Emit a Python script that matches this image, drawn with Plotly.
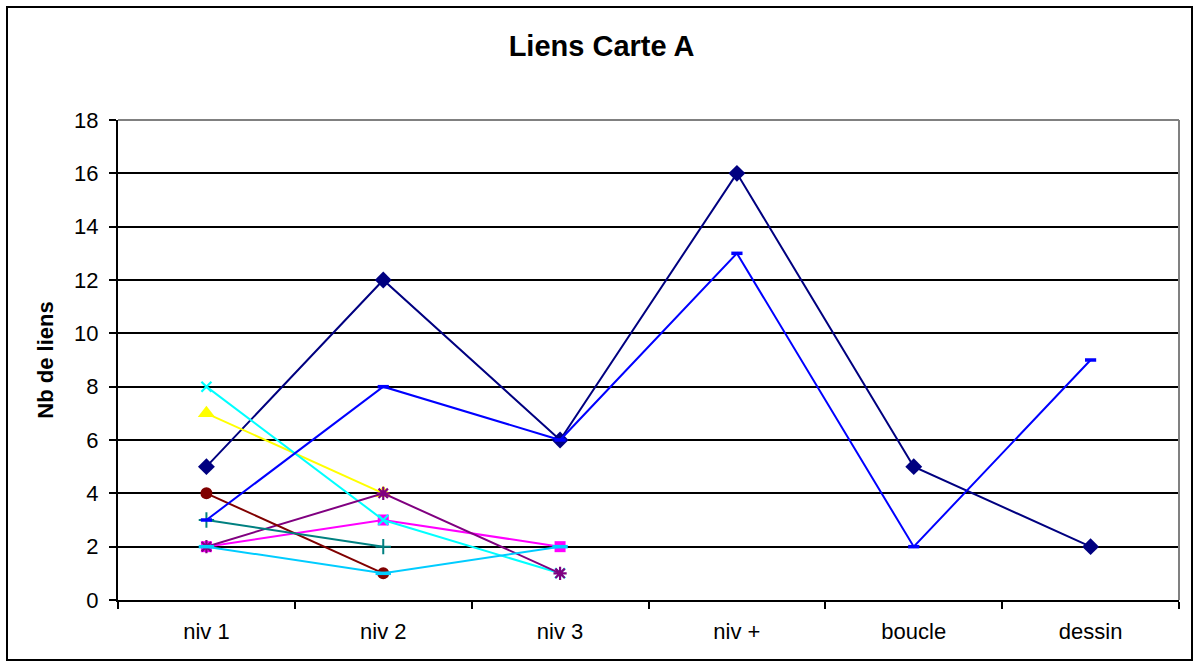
import plotly.graph_objects as go

# Categories on the x axis
categories = ["niv 1", "niv 2", "niv 3", "niv +", "boucle", "dessin"]

# One series per line (None = no value for that category)
serie_1 = [5, 12, 6, 16, 5, 2]
serie_2 = [2, 3, 2, None, None, None]
serie_3 = [7, 4, None, None, None, None]
serie_4 = [8, 3, 1, None, None, None]
serie_5 = [2, 4, 1, None, None, None]
serie_6 = [4, 1, None, None, None, None]
serie_7 = [3, 2, None, None, None, None]
serie_8 = [3, 8, 6, 13, 2, 9]
serie_9 = [2, 1, 2, None, None, None]

y_ticks = [0, 2, 4, 6, 8, 10, 12, 14, 16, 18]

series = [
    (serie_1, "#000080", "diamond", 13, 0),
    (serie_2, "#FF00FF", "square", 11, 0),
    (serie_3, "#FFFF00", "triangle-up", 15, 0),
    (serie_4, "#00FFFF", "x-thin", 10, 2.2),
    (serie_5, "#800080", "asterisk", 11, 2.2),
    (serie_6, "#800000", "circle", 12, 0),
    (serie_7, "#008080", "cross-thin", 11, 2),
    (serie_8, "#0000FF", "line-ew", 8, 3.5),
    (serie_9, "#00CCFF", "line-ew", 11, 3.5),
]

fig = go.Figure()
for i, (vals, color, symbol, size, lw) in enumerate(series, start=1):
    marker = dict(symbol=symbol, size=size, color=color)
    if lw:
        marker["line"] = dict(color=color, width=lw)
    fig.add_trace(go.Scatter(
        x=categories, y=vals, mode="lines+markers",
        name=f"Série{i}",
        line=dict(color=color, width=2),
        marker=marker,
        connectgaps=False,
        showlegend=False,
    ))

# plot-area geometry in pixels (used for the outer frame)
L, R, T, B = 118, 17, 120, 66
W, H = 1196, 666
pw, ph = W - L - R, H - T - B

def px_x(x):
    return (x - L) / pw

def px_y(y):
    return (H - B - y) / ph

fig.update_layout(
    width=W, height=H,
    margin=dict(l=L, r=R, t=T, b=B),
    paper_bgcolor="white", plot_bgcolor="white",
    font=dict(family="Liberation Sans, Arial, sans-serif", color="black", size=22),
    title=dict(text="<b>Liens Carte A</b>", x=0.503, xanchor="center",
               y=1 - 46 / H, yanchor="middle", yref="container",
               font=dict(size=29, color="black")),
    xaxis=dict(
        type="category", categoryorder="array", categoryarray=categories,
        range=[-0.5, 5.5], tickson="boundaries",
        ticks="outside", ticklen=7, tickwidth=1.5, tickcolor="black",
        showline=True, linecolor="black", linewidth=2,
        showgrid=False, zeroline=False,
        tickfont=dict(size=22), ticklabelstandoff=11,
    ),
    yaxis=dict(
        range=[0, 18], tickvals=y_ticks,
        ticks="outside", ticklen=7, tickwidth=1.5, tickcolor="black",
        showline=True, linecolor="black", linewidth=2,
        showgrid=True, gridcolor="black", gridwidth=2,
        zeroline=False,
        tickfont=dict(size=22), ticklabelstandoff=6,
        title=dict(text="<b>Nb de liens</b>", font=dict(size=22), standoff=14),
    ),
    shapes=[
        # gray top and right edges of the plot area
        dict(type="line", xref="paper", yref="paper", x0=0, x1=1, y0=1, y1=1,
             line=dict(color="#808080", width=2)),
        dict(type="line", xref="paper", yref="paper", x0=1, x1=1, y0=0, y1=1,
             line=dict(color="#808080", width=2)),
        # outer chart frame
        dict(type="rect", xref="paper", yref="paper",
             x0=px_x(7), x1=px_x(1192), y0=px_y(660), y1=px_y(7),
             line=dict(color="black", width=2), fillcolor="rgba(0,0,0,0)"),
    ],
)

fig.write_html("out.html")
